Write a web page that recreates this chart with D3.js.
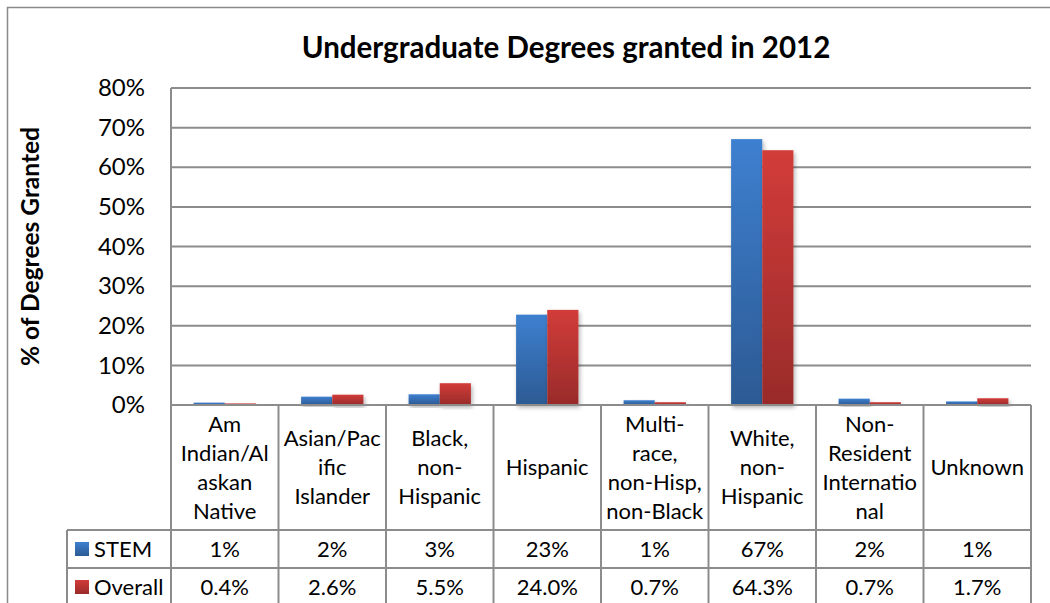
<!DOCTYPE html>
<html>
<head>
<meta charset="utf-8">
<script src="https://cdn.jsdelivr.net/npm/d3@7"></script>
<style>
  html, body { margin: 0; padding: 0; background: #fff; }
  svg { display: block; }
  text { font-family: Lato, "Open Sans", sans-serif; fill: #000; }
</style>
</head>
<body>
<svg id="chart" width="1050" height="603"></svg>
<script>
// Share of undergraduate degrees by race/ethnicity, 2012 (percent)
const categories = [
  "Am\nIndian/Al\naskan\nNative",
  "Asian/Pac\nific\nIslander",
  "Black,\nnon-\nHispanic",
  "Hispanic",
  "Multi-\nrace,\nnon-Hisp,\nnon-Black",
  "White,\nnon-\nHispanic",
  "Non-\nResident\nInternatio\nnal",
  "Unknown"
];
const seriesNames = ["STEM", "Overall"];
const stemValues = [0.6, 2.1, 2.7, 22.8, 1.2, 67.1, 1.6, 0.9];
const overallValues = [0.4, 2.6, 5.5, 24.0, 0.7, 64.3, 0.7, 1.7];
const seriesDecimals = [0, 1];
const yTicks = [0, 10, 20, 30, 40, 50, 60, 70, 80];
const titleText = "Undergraduate Degrees granted in 2012";
const yAxisTitle = "% of Degrees Granted";

const seriesValues = [stemValues, overallValues];

const svg = d3.select("#chart");
const W = 1050, H = 603;

// layout
const plot = { left: 171, right: 1031, top: 88, bottom: 405 };
const catRowBottom = 530;
const rowH = 38;
const legendLeft = 67;
const lineColor = "#8c8c8c";
const fontBase = 22;

// gradients and shadow
const defs = svg.append("defs");
const gradColors = [["#3e80d0", "#2c5a93"], ["#d23c39", "#992b2a"]];
gradColors.forEach((c, i) => {
  const g = defs.append("linearGradient")
    .attr("id", "grad" + i).attr("x1", 0).attr("y1", 0).attr("x2", 0).attr("y2", 1);
  g.append("stop").attr("offset", "0%").attr("stop-color", c[0]);
  g.append("stop").attr("offset", "100%").attr("stop-color", c[1]);
});
const f = defs.append("filter").attr("id", "shadow")
  .attr("x", "-30%").attr("y", "-10%").attr("width", "160%").attr("height", "130%");
f.append("feDropShadow").attr("dx", 1.5).attr("dy", 2.5)
  .attr("stdDeviation", 2).attr("flood-color", "#000").attr("flood-opacity", 0.3);

// outer chart border
svg.append("rect")
  .attr("x", 7.5).attr("y", 7.5).attr("width", W + 20).attr("height", H + 20)
  .attr("fill", "none").attr("stroke", "#8a8a8a").attr("stroke-width", 1.5);

// scales
const x = d3.scaleBand().domain(d3.range(categories.length))
  .range([plot.left, plot.right]);
const xs = d3.scaleBand().domain(d3.range(seriesNames.length))
  .range([0, x.bandwidth()]).paddingInner(0).paddingOuter(0.725);
const y = d3.scaleLinear().domain([0, 80]).range([plot.bottom, plot.top]);

// gridlines
svg.append("g").selectAll("line").data(yTicks.filter(t => t > 0)).join("line")
  .attr("x1", plot.left).attr("x2", plot.right)
  .attr("y1", d => y(d)).attr("y2", d => y(d))
  .attr("stroke", lineColor).attr("stroke-width", 2);

// y axis labels
const yAxis = d3.axisLeft(y).tickValues(yTicks).tickSize(0).tickPadding(26)
  .tickFormat(d => d + "%");
const yg = svg.append("g").attr("transform", `translate(${plot.left},0)`).call(yAxis);
yg.select(".domain").remove();
yg.selectAll("text").attr("font-size", 24).attr("font-family", "Lato, sans-serif");

// bars
const groups = svg.append("g").selectAll("g").data(categories).join("g")
  .attr("transform", (d, i) => `translate(${x(i)},0)`);
groups.selectAll("rect")
  .data((d, i) => seriesValues.map((vals, s) => ({ s, v: vals[i] })))
  .join("rect")
  .attr("x", d => xs(d.s))
  .attr("width", xs.bandwidth())
  .attr("y", d => y(d.v))
  .attr("height", d => y(0) - y(d.v))
  .attr("fill", d => `url(#grad${d.s})`)
  .attr("filter", "url(#shadow)");

// data table lines
const tableBottom = H + 10;
const tl = svg.append("g").attr("stroke", lineColor).attr("stroke-width", 2);
// plot left edge / axis line
tl.append("line").attr("x1", plot.left).attr("x2", plot.left)
  .attr("y1", plot.top).attr("y2", tableBottom);
// top edge of table (0% baseline)
tl.append("line").attr("x1", plot.left).attr("x2", plot.right)
  .attr("y1", plot.bottom).attr("y2", plot.bottom);
// row separators
[catRowBottom, catRowBottom + rowH].forEach(yy => {
  tl.append("line").attr("x1", legendLeft).attr("x2", plot.right)
    .attr("y1", yy).attr("y2", yy);
});
// legend column left edge
tl.append("line").attr("x1", legendLeft).attr("x2", legendLeft)
  .attr("y1", catRowBottom).attr("y2", tableBottom);
// column separators
d3.range(1, categories.length + 1).forEach(i => {
  const xx = i < categories.length ? x(i) : plot.right;
  tl.append("line").attr("x1", xx).attr("x2", xx)
    .attr("y1", plot.bottom).attr("y2", tableBottom);
});

// category labels
const lineGap = 29;
const catMid = (plot.bottom + catRowBottom) / 2;
svg.append("g").selectAll("text").data(categories).join("text")
  .attr("text-anchor", "middle")
  .attr("font-size", fontBase)
  .each(function (d, i) {
    const lines = d.split("\n");
    const t = d3.select(this);
    const cx = x(i) + x.bandwidth() / 2;
    lines.forEach((ln, k) => {
      t.append("tspan").attr("x", cx)
        .attr("y", catMid + (k - (lines.length - 1) / 2) * lineGap)
        .attr("dy", "0.35em").text(ln);
    });
  });

// value rows
seriesNames.forEach((name, s) => {
  const rowMid = catRowBottom + rowH * s + rowH / 2;
  svg.append("g").selectAll("text").data(seriesValues[s]).join("text")
    .attr("x", (d, i) => x(i) + x.bandwidth() / 2)
    .attr("y", rowMid).attr("dy", "0.35em")
    .attr("text-anchor", "middle").attr("font-size", fontBase)
    .text(d => d.toFixed(seriesDecimals[s]) + "%");
  // legend key
  svg.append("rect").attr("x", 75).attr("y", rowMid - 7).attr("width", 14).attr("height", 14)
    .attr("fill", `url(#grad${s})`);
  svg.append("text").attr("x", 94).attr("y", rowMid).attr("dy", "0.35em")
    .attr("font-size", fontBase).text(name);
});

// title
svg.append("text").attr("x", 566).attr("y", 58)
  .attr("text-anchor", "middle").attr("font-size", 29.5).attr("font-weight", "bold")
  .text(titleText);

// y axis title
svg.append("text")
  .attr("transform", `translate(39,${(plot.top + plot.bottom) / 2}) rotate(-90)`)
  .attr("text-anchor", "middle").attr("font-size", 24.5).attr("font-weight", "bold")
  .text(yAxisTitle);
</script>
</body>
</html>
